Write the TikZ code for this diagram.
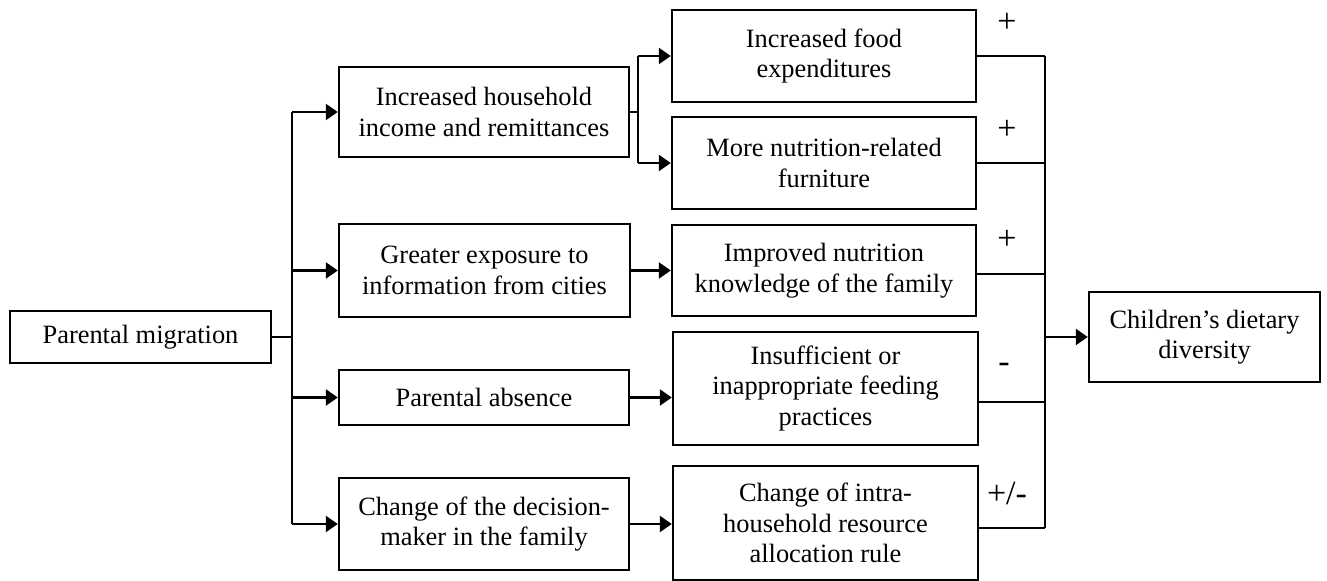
\documentclass[tikz,border=0pt]{standalone}
\usepackage{fontspec}
\setmainfont{Liberation Serif}
\usetikzlibrary{positioning,arrows.meta,calc}

\tikzset{
  box/.style={draw, line width=1.2pt, align=center, inner sep=0pt,
    font=\fontsize{13.2pt}{15.3pt}\selectfont},
  arr/.style={line width=1.2pt, -{Triangle[length=6pt,width=8pt]}},
  link/.style={line width=1.2pt},
  sign/.style={font=\fontsize{17pt}{19pt}\selectfont}
}

\begin{document}
\begin{tikzpicture}[x=0.5pt, y=-0.5pt]
        \useasboundingbox (0,0) rectangle (1327,581);

        % left column
        \node[box, minimum width=130.5pt, minimum height=26pt] (pm) at (140.5,337) {Parental migration};

        % mechanisms
        \node[box, minimum width=145pt, minimum height=45pt] (inc) at (484,112) {Increased household\\income and remittances};
        \node[box, minimum width=145.5pt, minimum height=46.5pt] (exp) at (484.5,270.5) {Greater exposure to\\information from cities};
        \node[box, minimum width=145pt, minimum height=27.5pt] (abs) at (484,397.5) {Parental absence};
        \node[box, minimum width=145pt, minimum height=46pt] (dec) at (484,524) {Change of the decision-\\maker in the family};

        % channels
        \node[box, minimum width=152pt, minimum height=46pt] (food) at (824,56) {Increased food\\expenditures};
        \node[box, minimum width=152pt, minimum height=46pt] (furn) at (824,163) {More nutrition-related\\furniture};
        \node[box, minimum width=152pt, minimum height=45.5pt] (know) at (824,270.5) {Improved nutrition\\knowledge of the family};
        \node[box, minimum width=152.5pt, minimum height=56.5pt] (feed) at (825.5,388.5) {Insufficient or\\inappropriate feeding\\practices};
        \node[box, minimum width=152.5pt, minimum height=57pt] (alloc) at (825.5,523) {Change of intra-\\household resource\\allocation rule};

        % outcome
        \node[box, minimum width=115.5pt, minimum height=45pt] (div) at (1204.5,337) {Children’s dietary\\diversity};

        % branching from parental migration
        \coordinate (trunk) at ($(pm.east)+(20,0)$);
        \draw[link] (pm.east) -- (trunk);
        \draw[link] (trunk |- inc.west) -- (trunk |- dec.west);
        \foreach \n in {inc,exp,abs,dec}
            \draw[arr] (trunk |- \n.west) -- (\n.west);

        % income fork
        \coordinate (fork) at ($(inc.east)+(8,0)$);
        \draw[link] (inc.east) -- (fork);
        \draw[link] (fork |- food.west) -- (fork |- furn.west);
        \draw[arr] (fork |- food.west) -- (food.west);
        \draw[arr] (fork |- furn.west) -- (furn.west);

        \draw[arr] (exp.east) -- (know.west);
        \draw[arr] (abs.east) -- (abs.east -| feed.west);
        \draw[arr] (dec.east) -- (dec.east -| alloc.west);

        % collector to outcome
        \coordinate (col) at ($(food.east)+(68,0)$);
        \coordinate (o1) at (food.east);
        \coordinate (o2) at (furn.east);
        \coordinate (o3) at ($(know.east)+(0,3.5)$);
        \coordinate (o4) at ($(feed.east)+(0,13.5)$);
        \coordinate (o5) at ($(alloc.east)+(0,5)$);
        \foreach \o in {o1,o2,o3,o4,o5}
            \draw[link] (\o) -- (col |- \o);
        \draw[link] (col |- o1) -- (col |- o5);
        \draw[arr] (col |- div.west) -- (div.west);

        % signs
        \node[sign] (s1) at (1007,23) {+};
        \node[sign] (s2) at (1007,130) {+};
        \node[sign] (s3) at (1007,240) {+};
        \node[sign] (s4) at (1004,368) {-};
        \node[sign] (s5) at (1007,493) {+/-};
    \end{tikzpicture}
\end{document}
